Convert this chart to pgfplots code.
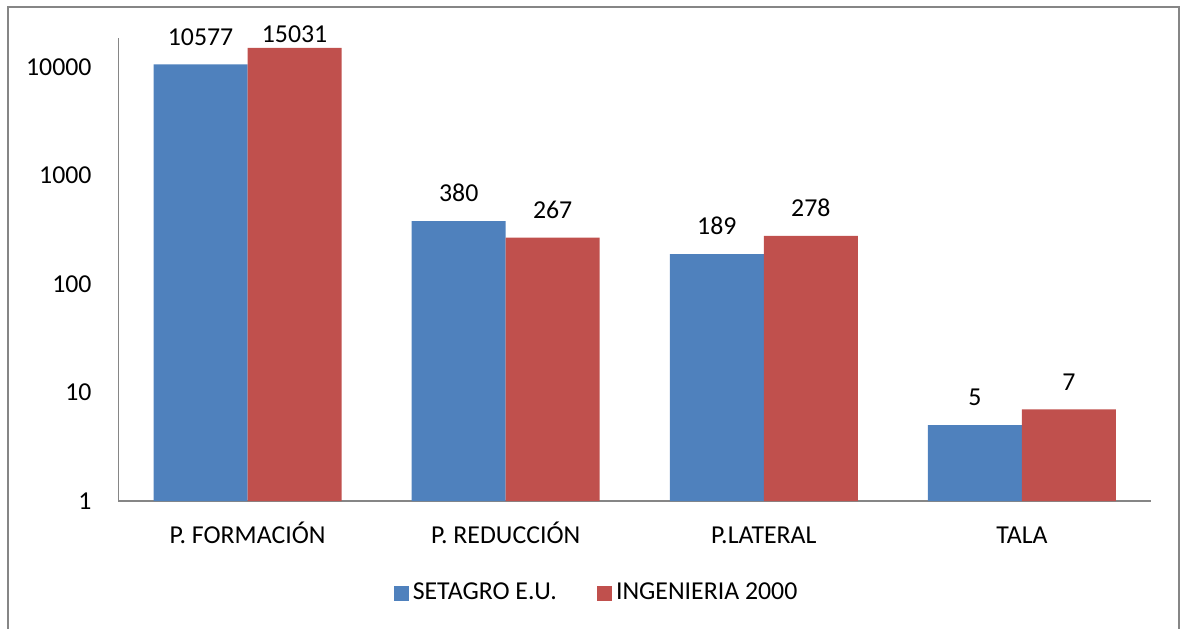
\documentclass[border=0pt]{standalone}
\usepackage{pgfplots}
\pgfplotsset{compat=1.18}
\usepackage{fontspec}
\setmainfont{Carlito}
\definecolor{sblue}{HTML}{4F81BD}
\definecolor{sred}{HTML}{C0504D}
\definecolor{axgray}{HTML}{868686}
\begin{document}
\fontsize{12.9}{15}\selectfont
\begin{tikzpicture}
\useasboundingbox (0,0) rectangle (590.5pt,314pt);
\draw[axgray, line width=1pt] (4pt,-2pt) -- (4pt,310.5pt) -- (589.5pt,310.5pt) -- (589.5pt,-2pt);
\begin{axis}[
  at={(59.25pt,63.5pt)}, anchor=south west,
  scale only axis, width=516.25pt, height=231.75pt,
  ymode=log, ymin=1, ymax=18700, log origin=0,
  xmin=-0.5, xmax=3.5,
  xtick={0,1,2,3},
  xticklabels={P. FORMACIÓN, P. REDUCCIÓN, P.LATERAL, TALA},
  ytick={1,10,100,1000,10000},
  yticklabels={1,10,100,1000,10000},
  yminorticks=false,
  major tick length=0pt, minor tick length=0pt,
  /pgf/number format/assume math mode=true,
  tick label style={font=\fontsize{12.9}{15}\selectfont},
  xticklabel style={anchor=base, yshift=-21pt},
  yticklabel style={xshift=-9pt},
  axis x line*=bottom, axis y line*=left,
  axis line style={-, draw=axgray, line width=0.75pt},
  ybar, bar width=0.364,
  point meta=explicit symbolic,
  nodes near coords,
  nodes near coords style={font=\fontsize{12.9}{15}\selectfont, black, yshift=5pt},
  legend columns=2,
  legend style={at={(0.464,-0.199)}, anchor=center, draw=none, fill=none,
     font=\fontsize{12.9}{15}\selectfont,
     /tikz/every even column/.append style={column sep=18pt}},
  legend image code/.code={\fill[#1] (0pt,-3.75pt) rectangle (7.5pt,3.75pt);},
  clip=false,
]
\addplot[fill=sblue, draw=none, bar shift=-0.182] coordinates {
  (0,10577) [10577] (1,380) [380] (2,189) [189] (3,5) [5]};
\addlegendentry{SETAGRO E.U.}
\addplot[fill=sred, draw=none, bar shift=0.182,
  coordinate style/.condition={x==0}{yshift=-7pt}] coordinates {
  (0,15031) [15031] (1,267) [267] (2,278) [278] (3,7) [7]};
\addlegendentry{INGENIERIA 2000}
\end{axis}
\end{tikzpicture}
\end{document}
